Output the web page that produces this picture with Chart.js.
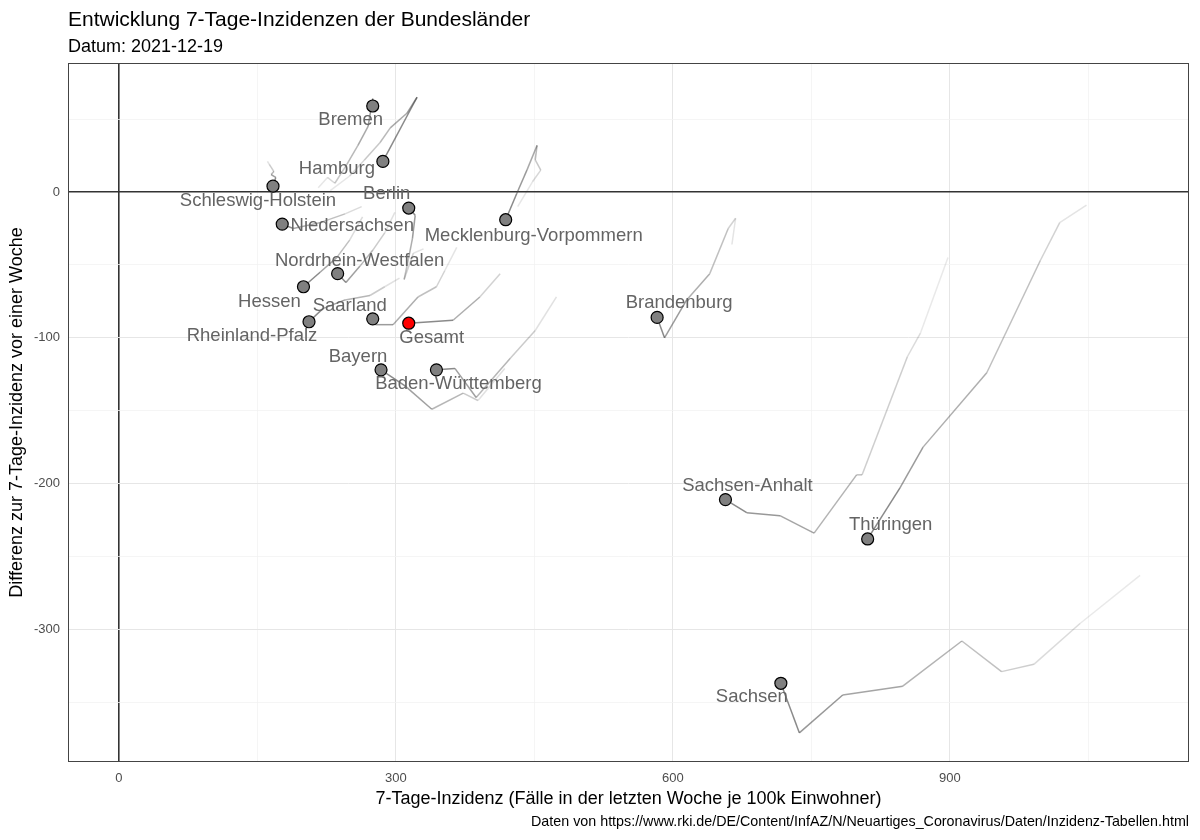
<!DOCTYPE html>
<html>
<head>
<meta charset="utf-8">
<script src="https://cdn.jsdelivr.net/npm/chart.js@4"></script>
<style>
html, body { margin: 0; padding: 0; background: #fff; }
#wrap { width: 1200px; height: 840px; position: relative; }
</style>
</head>
<body>
<div id="wrap"><canvas id="chart"></canvas></div>
<script>
// Each trail starts at the current day (2021-12-19) and goes back in time.
const laender = ['Bremen', 'Hamburg', 'Schleswig-Holstein', 'Berlin', 'Niedersachsen',
  'Mecklenburg-Vorpommern', 'Nordrhein-Westfalen', 'Hessen', 'Saarland', 'Rheinland-Pfalz',
  'Bayern', 'Baden-Württemberg', 'Brandenburg', 'Sachsen-Anhalt', 'Thüringen', 'Sachsen', 'Gesamt'];

// 7-Tage-Inzidenz per day
const inzidenz = [
  [275, 275, 270, 259, 247, 234, 226, 216],
  [286, 323, 312, 294, 283, 266, 250, 229],
  [167, 170, 165, 168, 163, 161],
  [314, 321, 318, 314, 309, 319, 330],
  [177, 189, 218, 245, 263],
  [419, 431, 442, 453, 451, 457, 448, 432],
  [237, 246, 261, 275, 288, 299],
  [200, 218, 236, 250, 264],
  [275, 278, 297, 324, 344, 353, 366],
  [206, 221, 245, 272, 288, 304],
  [284, 310, 339, 373, 389, 418],
  [344, 364, 387, 424, 451, 474],
  [583, 591, 615, 640, 660, 668, 664],
  [657, 680, 716, 753, 799, 805, 854, 868, 898],
  [811, 846, 871, 940, 998, 1019, 1048],
  [717, 737, 784, 849, 913, 956, 991, 1041, 1106],
  [314, 362, 391, 413]
];

// Differenz zur Inzidenz eine Woche vorher
const differenz = [
  [59, 64, 45, 32, 19, 6, 10, 3],
  [21, 65, 54, 44, 34, 22, 11, 1],
  [4, 10, 12, 14, 19, 21],
  [-11, -16, -32, -45, -60, -42, -39],
  [-22, -25, -21, -15, -10],
  [-19, -1, 15, 32, 22, 15, 7, -10],
  [-56, -62, -51, -40, -28, -14],
  [-65, -55, -45, -33, -17],
  [-87, -91, -91, -72, -65, -54, -38],
  [-89, -80, -74, -71, -65, -59],
  [-122, -133, -149, -138, -143, -121],
  [-122, -121, -141, -114, -95, -72],
  [-86, -100, -74, -56, -25, -18, -36],
  [-211, -220, -222, -234, -194, -194, -113, -97, -45],
  [-238, -203, -175, -124, -47, -21, -9],
  [-337, -371, -345, -339, -308, -329, -324, -296, -263],
  [-90, -88, -72, -56]
];

const xTicks = [0, 150, 300, 450, 600, 750, 900, 1050];
const yTicks = [-350, -300, -250, -200, -150, -100, -50, 0, 50];

// where the repelled labels sit relative to their point (px)
const labelNudge = {
  'Bremen': [-22, 14], 'Hamburg': [-46, 8], 'Schleswig-Holstein': [-15, 15],
  'Berlin': [-22, -14], 'Niedersachsen': [70, 2], 'Mecklenburg-Vorpommern': [28, 16],
  'Nordrhein-Westfalen': [22, -13], 'Hessen': [-34, 15], 'Saarland': [-23, -13],
  'Rheinland-Pfalz': [-57, 14], 'Bayern': [-23, -13], 'Baden-Württemberg': [22, 14],
  'Brandenburg': [22, -14], 'Sachsen-Anhalt': [22, -14], 'Thüringen': [23, -14],
  'Sachsen': [-29, 14], 'Gesamt': [23, 15]
};

const FONT = '"Liberation Sans", Arial, sans-serif';

function trailColor(ctx){
  const n = ctx.chart.data.datasets[ctx.datasetIndex].data.length;
  const a = 0.05 + 0.58 * (1 - ctx.p0DataIndex / (n - 1));
  return `rgba(70, 70, 70, ${a.toFixed(3)})`;
}

const trails = laender.map((name, i) => ({
  label: name,
  data: inzidenz[i].map((x, j) => ({x: x, y: differenz[i][j]})),
  showLine: true,
  borderWidth: 1.5,
  pointRadius: 0,
  fill: false,
  order: 1,
  segment: { borderColor: trailColor }
}));

const current = {
  label: 'aktuell',
  data: laender.map((name, i) => ({x: inzidenz[i][0], y: differenz[i][0]})),
  showLine: false,
  pointRadius: 6,
  pointBorderWidth: 1.2,
  pointBorderColor: '#000',
  pointBackgroundColor: laender.map(n => n == 'Gesamt' ? '#ff0000' : '#808080'),
  order: 0
};

const decorations = {
  id: 'decorations',
  afterDatasetsDraw(chart){
    const c = chart.ctx;
    const a = chart.chartArea;
    const xs = chart.scales.x, ys = chart.scales.y;
    c.save();
    // panel border
    c.strokeStyle = '#444';
    c.lineWidth = 1;
    c.strokeRect(a.left + 0.5, a.top + 0.5, a.right - a.left - 1, a.bottom - a.top - 1);
    // state labels
    c.font = `18.5px ${FONT}`;
    c.fillStyle = '#646464';
    c.textAlign = 'center';
    c.textBaseline = 'middle';
    laender.forEach((name, i) => {
      const px = xs.getPixelForValue(inzidenz[i][0]);
      const py = ys.getPixelForValue(differenz[i][0]);
      const off = labelNudge[name];
      c.fillText(name, px + off[0], py + off[1]);
    });
    c.restore();
  },
  afterDraw(chart){
    const c = chart.ctx;
    const a = chart.chartArea;
    c.save();
    c.fillStyle = '#000';
    c.textBaseline = 'alphabetic';
    c.textAlign = 'left';
    c.font = `21px ${FONT}`;
    c.fillText('Entwicklung 7-Tage-Inzidenzen der Bundesländer', a.left, 26);
    c.font = `18px ${FONT}`;
    c.fillText('Datum: 2021-12-19', a.left, 52);
    // axis titles
    c.font = `18px ${FONT}`;
    c.textAlign = 'center';
    c.textBaseline = 'middle';
    c.fillText('7-Tage-Inzidenz (Fälle in der letzten Woche je 100k Einwohner)', (a.left + a.right) / 2, 799);
    c.save();
    c.translate(17, (a.top + a.bottom) / 2);
    c.rotate(-Math.PI / 2);
    c.fillText('Differenz zur 7-Tage-Inzidenz vor einer Woche', 0, 0);
    c.restore();
    // caption
    c.font = `14.3px ${FONT}`;
    c.textAlign = 'right';
    c.fillText('Daten von https://www.rki.de/DE/Content/InfAZ/N/Neuartiges_Coronavirus/Daten/Inzidenz-Tabellen.html', a.right, 822);
    c.restore();
  }
};

function gridColor(ctx, major){
  const v = ctx.tick.value;
  if (v === 0) return '#333333';
  return v % major === 0 ? '#e6e6e6' : '#f2f2f2';
}

function gridWidth(ctx, major){
  const v = ctx.tick.value;
  if (v === 0) return 1.6;
  return v % major === 0 ? 1 : 0.8;
}

const chart = new Chart(document.getElementById('chart'), {
  type: 'scatter',
  data: { datasets: [current].concat(trails) },
  plugins: [decorations],
  options: {
    animation: false,
    responsive: true,
    maintainAspectRatio: false,
    devicePixelRatio: 1,
    layout: { padding: { top: 63, right: 11, bottom: 0, left: 0 } },
    plugins: {
      legend: { display: false },
      title: { display: false },
      tooltip: { enabled: false }
    },
    scales: {
      x: {
        type: 'linear',
        min: -55,
        max: 1159,
        afterBuildTicks: (scale) => { scale.ticks = xTicks.map(v => ({value: v})); },
        afterFit: (scale) => { scale.height = 78; },
        border: { display: false },
        grid: {
          drawTicks: false,
          color: (ctx) => gridColor(ctx, 300),
          lineWidth: (ctx) => gridWidth(ctx, 300)
        },
        ticks: {
          padding: 9,
          color: '#4d4d4d',
          font: { family: FONT, size: 13 },
          callback: (v) => v % 300 === 0 ? String(v) : ''
        }
      },
      y: {
        type: 'linear',
        min: -391,
        max: 88.5,
        afterBuildTicks: (scale) => { scale.ticks = yTicks.map(v => ({value: v})); },
        afterFit: (scale) => { scale.width = 68; },
        border: { display: false },
        grid: {
          drawTicks: false,
          color: (ctx) => gridColor(ctx, 100),
          lineWidth: (ctx) => gridWidth(ctx, 100)
        },
        ticks: {
          padding: 8,
          color: '#4d4d4d',
          font: { family: FONT, size: 13 },
          callback: (v) => v % 100 === 0 ? String(v) : ''
        }
      }
    }
  }
});
</script>
</body>
</html>
